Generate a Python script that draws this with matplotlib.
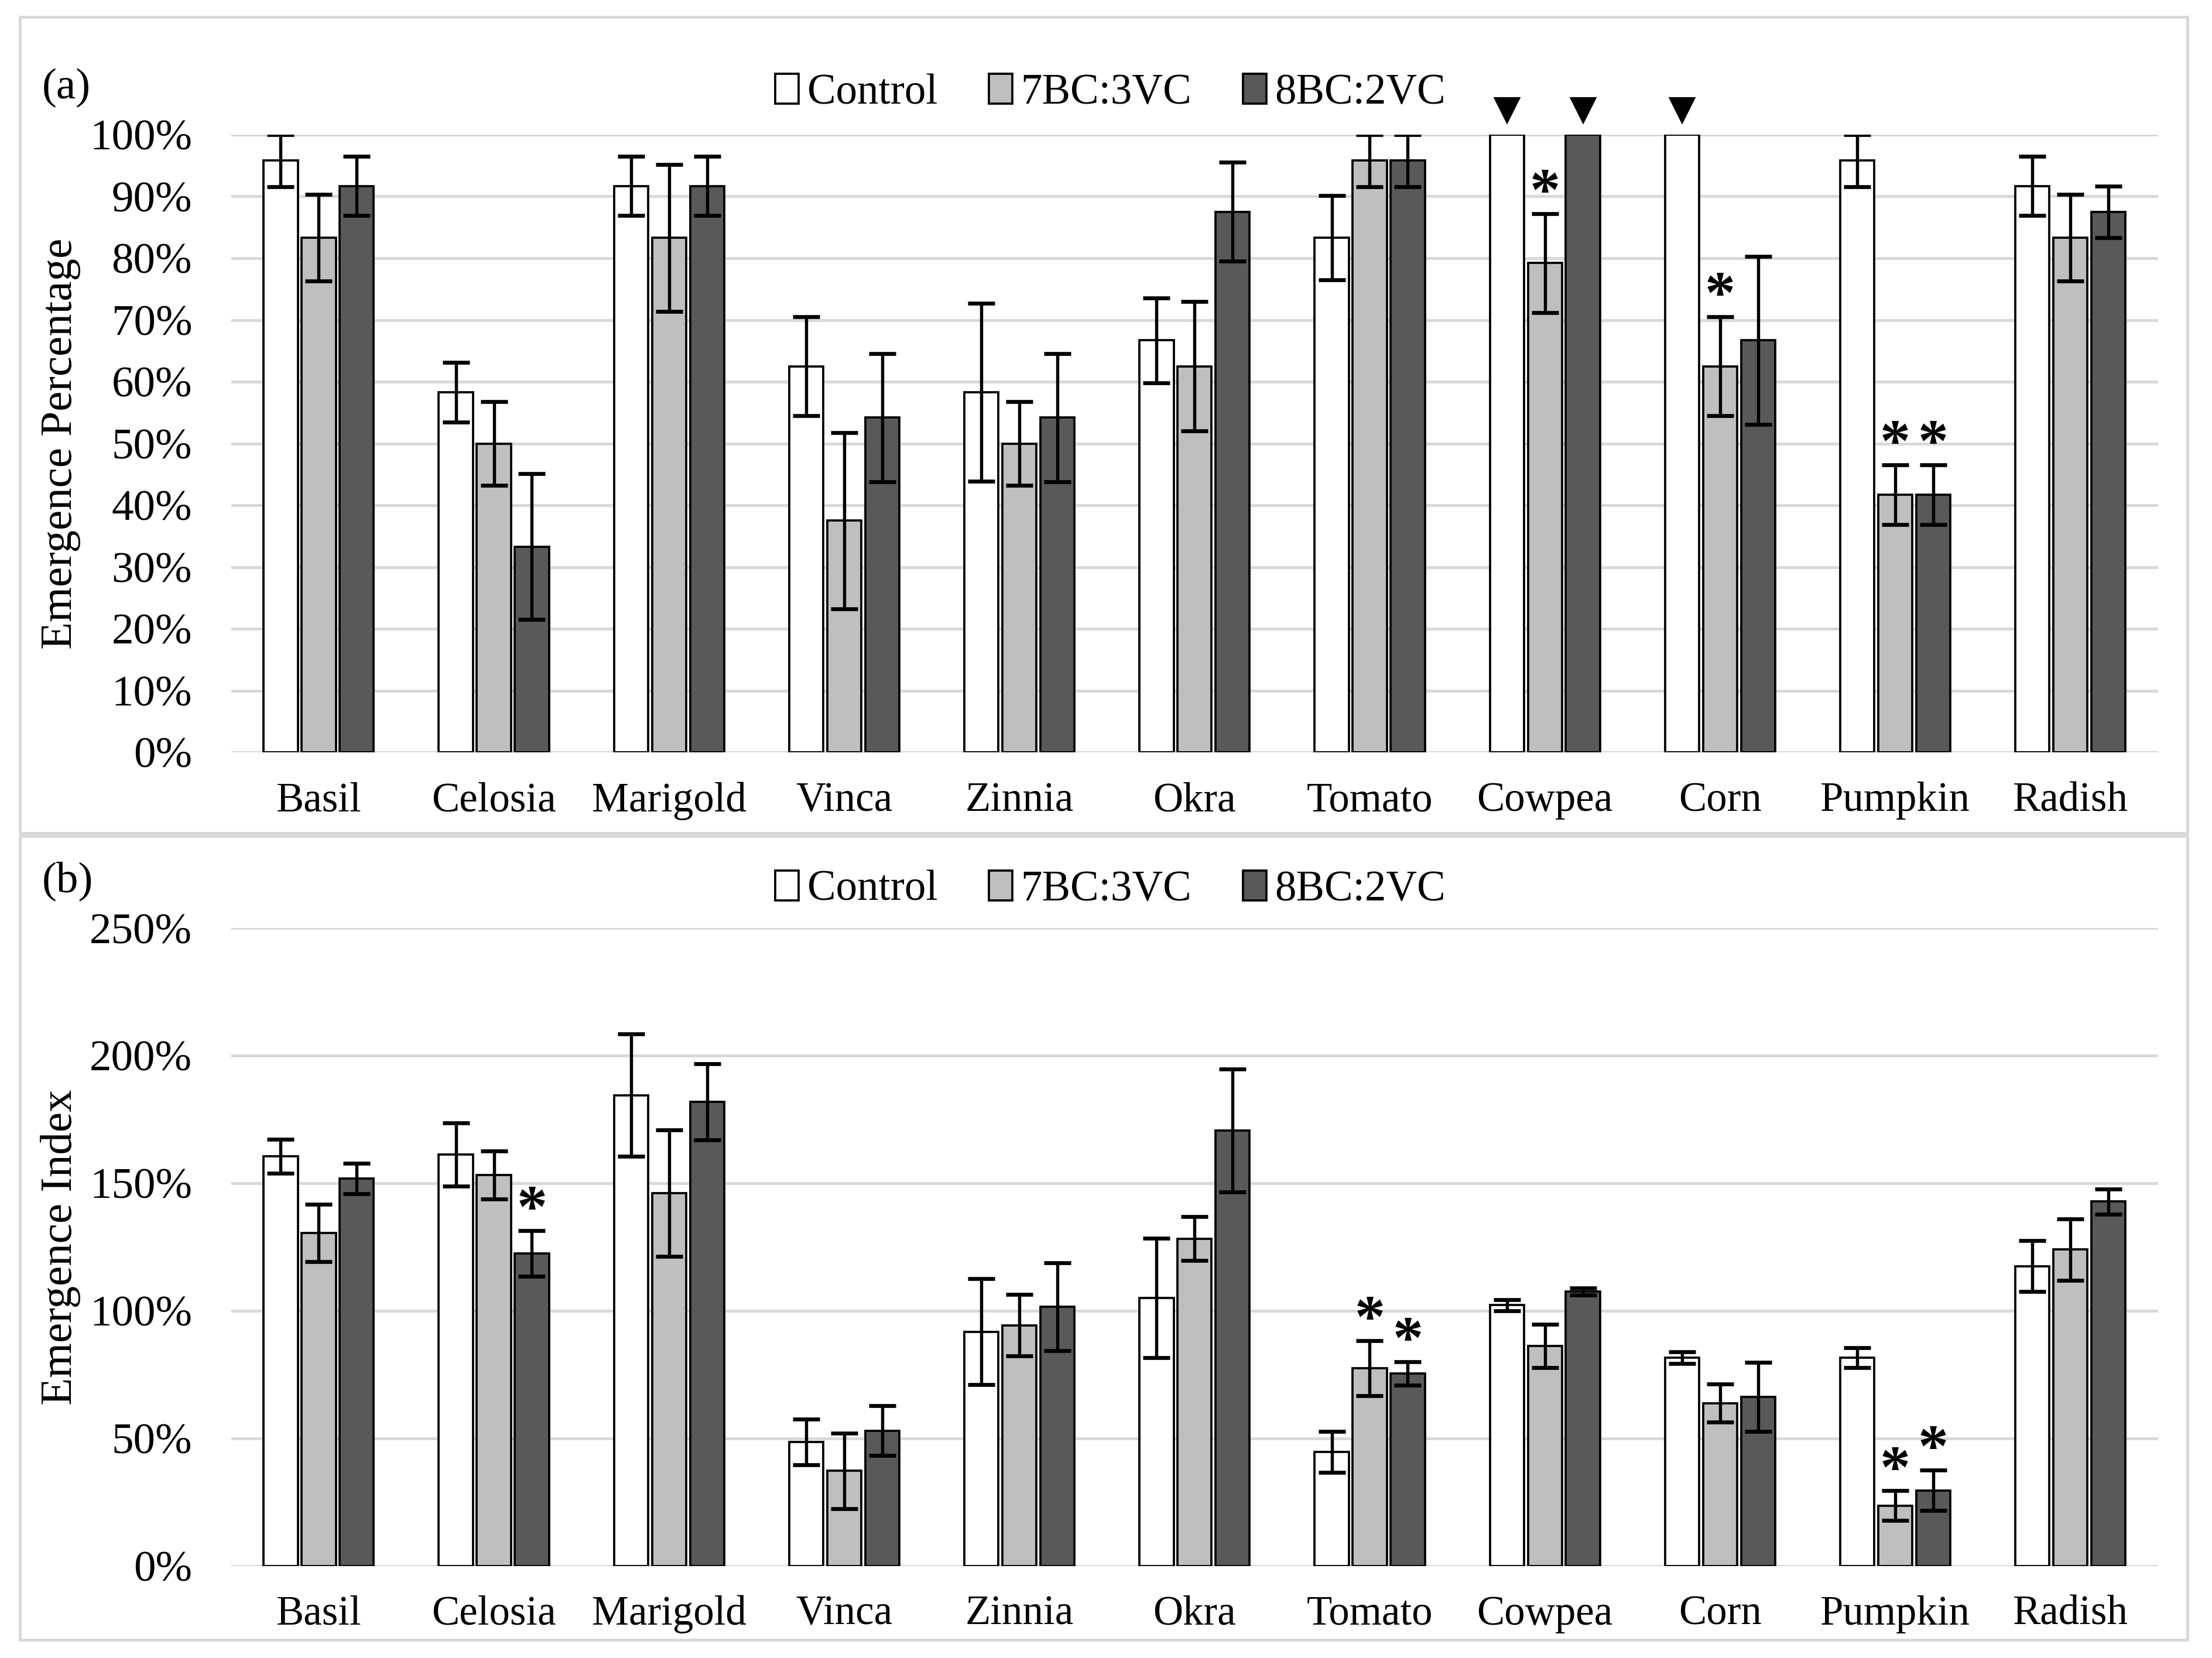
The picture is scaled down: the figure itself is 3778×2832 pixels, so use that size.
import matplotlib
matplotlib.use('Agg')
import matplotlib.pyplot as plt
from matplotlib.patches import Rectangle
import numpy as np

plt.rcParams['font.family'] = ['Liberation Serif', 'DejaVu Serif']

crops = ["Basil", "Celosia", "Marigold", "Vinca", "Zinnia", "Okra",
         "Tomato", "Cowpea", "Corn", "Pumpkin", "Radish"]
treatments = ["Control", "7BC:3VC", "8BC:2VC"]
colors = ["#ffffff", "#bfbfbf", "#595959"]

# (a) emergence percentage, mean and error
pct_control = [95.8, 58.3, 91.7, 62.5, 58.3, 66.7, 83.3, 100.0, 100.0, 95.8, 91.7]
pct_7bc = [83.3, 50.0, 83.3, 37.5, 50.0, 62.5, 95.8, 79.2, 62.5, 41.7, 83.3]
pct_8bc = [91.7, 33.3, 91.7, 54.2, 54.2, 87.5, 95.8, 100.0, 66.7, 41.7, 87.5]
pct_control_err = [4.2, 4.8, 4.8, 8.0, 14.4, 6.9, 6.8, 0, 0, 4.2, 4.8]
pct_7bc_err = [7.0, 6.8, 11.9, 14.3, 6.8, 10.5, 4.2, 8.0, 8.0, 4.8, 7.0]
pct_8bc_err = [4.8, 11.8, 4.8, 10.4, 10.4, 8.0, 4.2, 0, 13.6, 4.8, 4.2]

# (b) emergence index, mean and error
idx_control = [160.5, 161.3, 184.5, 48.5, 91.8, 105.0, 44.7, 102.2, 81.6, 81.6, 117.5]
idx_7bc = [130.5, 153.2, 146.2, 37.2, 94.3, 128.3, 77.5, 86.2, 63.8, 23.6, 124.0]
idx_8bc = [151.8, 122.5, 181.9, 53.0, 101.5, 170.7, 75.4, 107.6, 66.2, 29.6, 142.8]
idx_control_err = [6.7, 12.4, 24.0, 9.0, 20.7, 23.5, 8.0, 2.2, 2.4, 4.0, 9.9]
idx_7bc_err = [11.3, 9.5, 24.8, 14.7, 12.1, 8.6, 10.8, 8.4, 7.5, 5.8, 12.0]
idx_8bc_err = [6.0, 9.0, 15.0, 9.8, 17.2, 24.1, 4.6, 1.4, 13.5, 8.0, 5.0]

# significance marks: (crop index, treatment index)
stars_a = [(7, 1), (8, 1), (9, 1), (9, 2)]
triangles_a = [(7, 0), (7, 2), (8, 0)]
stars_b = [(1, 2), (6, 1), (6, 2), (9, 1), (9, 2)]

fig = plt.figure(figsize=(3778 / 300, 2832 / 300), dpi=300)

# light grey chart-area frames
for y0, h in [(0.4974, 0.4923), (0.0111, 0.4846)]:
    fig.patches.append(Rectangle((0.009, y0), 0.980, h, transform=fig.transFigure,
                                 fill=False, edgecolor="#d9d9d9", linewidth=1.2))

width = 0.195
step = 0.217
x = np.arange(len(crops))


def draw_panel(ax, means, errs, ymax, ystep, stars, triangles, tri_y):
    for k in range(3):
        pos = x + (k - 1) * step
        e = np.array(errs[k])
        ax.bar(pos, means[k], width, color=colors[k], edgecolor="black",
               linewidth=0.9, zorder=3, label=treatments[k])
        mask = e > 0
        ax.errorbar(pos[mask], np.array(means[k])[mask], yerr=e[mask], fmt="none",
                    ecolor="black", elinewidth=1.3, capsize=5.5, capthick=1.6, zorder=4)
    for i, k in stars:
        top = means[k][i] + errs[k][i]
        ax.text(x[i] + (k - 1) * step, top - ymax * 0.014, "*", ha="center", va="bottom",
                fontsize=25, fontweight="bold", zorder=5)
    for i, k in triangles:
        ax.plot(x[i] + (k - 1) * step, tri_y, marker="v", color="black",
                markersize=9.5, clip_on=False, zorder=5)
    ax.set_xlim(-0.5, len(crops) - 0.5)
    ax.set_ylim(0, ymax)
    ax.set_yticks(np.arange(0, ymax + 0.1, ystep))
    ax.set_yticklabels(["{:.0f}%".format(v) for v in np.arange(0, ymax + 0.1, ystep)])
    ax.set_xticks(x)
    ax.set_xticklabels(crops)
    ax.grid(axis="y", color="#d9d9d9", linewidth=1.2, zorder=0)
    ax.set_axisbelow(True)
    for s in ax.spines.values():
        s.set_visible(False)
    ax.tick_params(axis="both", length=0, labelsize=18)
    ax.tick_params(axis="y", pad=16)
    ax.tick_params(axis="x", pad=12, labelsize=17)


ax1 = fig.add_axes([0.1045, 0.5462, 0.8711, 0.3726])
draw_panel(ax1, [pct_control, pct_7bc, pct_8bc],
           [pct_control_err, pct_7bc_err, pct_8bc_err],
           100, 10, stars_a, triangles_a, 104)
ax1.set_ylabel("Emergence Percentage", fontsize=18.5)
ax1.yaxis.set_label_coords(-0.078, 0.5)

ax2 = fig.add_axes([0.1045, 0.0556, 0.8711, 0.3846])
draw_panel(ax2, [idx_control, idx_7bc, idx_8bc],
           [idx_control_err, idx_7bc_err, idx_8bc_err],
           250, 50, stars_b, [], 0)
ax2.set_ylabel("Emergence Index", fontsize=18.5)
ax2.yaxis.set_label_coords(-0.078, 0.5)

for ax, ly in [(ax1, 0.9436), (ax2, 0.4632)]:
    fig.legend(*ax.get_legend_handles_labels(), loc="center", bbox_to_anchor=(0.502, ly),
               ncol=3, frameon=False, fontsize=17.5, handlelength=0.55, handleheight=0.7,
               handletextpad=0.2, columnspacing=1.2, borderaxespad=0)

fig.text(0.019, 0.947, "(a)", fontsize=18, va="center", ha="left")
fig.text(0.019, 0.4684, "(b)", fontsize=18, va="center", ha="left")

fig.savefig("out.png", dpi=300)
